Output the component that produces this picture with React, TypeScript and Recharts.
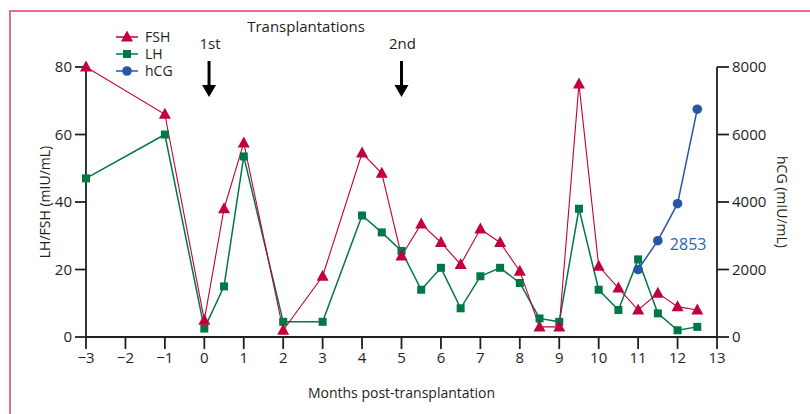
import React from 'react';
import { LineChart, Line, XAxis, YAxis, ReferenceDot, LabelList } from 'recharts';

const months = [-3, -1, 0, 0.5, 1, 2, 3, 4, 4.5, 5, 5.5, 6, 6.5, 7, 7.5, 8, 8.5, 9, 9.5, 10, 10.5, 11, 11.5, 12, 12.5];
const fsh = [80, 66, 5, 38, 57.5, 2, 18, 54.5, 48.5, 24, 33.5, 28, 21.5, 32, 28, 19.5, 3, 3, 75, 21, 14.5, 8, 13, 9, 8];
const lh = [47, 60, 2.5, 15, 53.5, 4.5, 4.5, 36, 31, 25.5, 14, 20.5, 8.5, 18, 20.5, 16, 5.5, 4.5, 38, 14, 8, 23, 7, 2, 3];
const hcgMonths = [11, 11.5, 12, 12.5];
const hcg = [2000, 2853, 3950, 6750];
const labelledHcg = 2853;

const xTicks = [-3, -2, -1, 0, 1, 2, 3, 4, 5, 6, 7, 8, 9, 10, 11, 12, 13];
const leftTicks = [0, 20, 40, 60, 80];
const rightTicks = [0, 2000, 4000, 6000, 8000];

const transplants = [
  { month: 0.12, label: '1st' },
  { month: 5, label: '2nd' },
];
const titleMonth = 2.58;

const data = months.map((m, i) => {
  const hi = hcgMonths.indexOf(m);
  return { month: m, fsh: fsh[i], lh: lh[i], hcg: hi >= 0 ? hcg[hi] : null };
});

const RED = '#c2003c';
const GREEN = '#007845';
const BLUE = '#2657a6';
const INK = '#231f20';

const Tri = (props: any) => {
  const { cx, cy, index } = props;
  if (cx == null || cy == null) return <g key={'t' + index} />;
  return <polygon key={'t' + index} points={`${cx},${cy - 6.5} ${cx - 6},${cy + 4.5} ${cx + 6},${cy + 4.5}`} fill={RED} />;
};
const Sq = (props: any) => {
  const { cx, cy, index } = props;
  if (cx == null || cy == null) return <g key={'s' + index} />;
  return <rect key={'s' + index} x={cx - 4} y={cy - 4} width={8} height={8} fill={GREEN} />;
};
const Circ = (props: any) => {
  const { cx, cy, index } = props;
  if (cx == null || cy == null) return <g key={'c' + index} />;
  return <circle key={'c' + index} cx={cx} cy={cy} r={4.8} fill={BLUE} />;
};

const Arrow = (label: string) => (props: any) => {
  const { cx, cy } = props;
  return (
    <g>
      <text x={cx + 1} y={cy - 48} textAnchor="middle" fontSize={15} fill={INK}>{label}</text>
      <line x1={cx} x2={cx} y1={cy - 36} y2={cy - 10} stroke="#000" strokeWidth={3} />
      <polygon points={`${cx - 7},${cy - 12} ${cx + 7},${cy - 12} ${cx},${cy}`} fill="#000" />
    </g>
  );
};

const Title = (props: any) => {
  const { cx, cy } = props;
  return <text x={cx} y={cy} textAnchor="middle" fontSize={15} fill={INK}>Transplantations</text>;
};

const fmt = (v: number) => String(v).replace('-', '\u2212');

const HcgLabel = (props: any) => {
  const { x, y, value } = props;
  if (value !== labelledHcg) return null;
  return <text x={x + 12} y={y + 9} fontSize={16} fill="#2e62ad">{value}</text>;
};

const legendItems = [
  { name: 'FSH', color: RED, kind: 'tri' },
  { name: 'LH', color: GREEN, kind: 'sq' },
  { name: 'hCG', color: BLUE, kind: 'circ' },
];

export default function App() {
  return (
    <div style={{ position: 'absolute', left: 0, top: 0, width: 810, height: 414, overflow: 'hidden', background: '#fff', fontFamily: '"Open Sans", sans-serif' }}>
      <div style={{ position: 'absolute', left: 9, top: 10, width: 1000, height: 1000, borderTop: '2px solid #e06b94', borderLeft: '2px solid #e06b94' }} />
      <LineChart width={810} height={414} data={data} margin={{ top: 67, right: 23, bottom: 47, left: 26 }} style={{ position: 'absolute', left: 0, top: 0 }}>
        <XAxis dataKey="month" type="number" domain={[-3, 13]} ticks={xTicks} tickFormatter={fmt} interval={0}
          height={30} tickSize={12} tickMargin={3} stroke={INK} strokeWidth={1.8}
          tick={{ fill: INK, fontSize: 15 }}
          label={{ value: 'Months post-transplantation', position: 'bottom', offset: 21, fill: INK, fontSize: 14 }} />
        <YAxis yAxisId="l" domain={[0, 80]} ticks={leftTicks} width={60} tickSize={11} tickMargin={3}
          stroke={INK} strokeWidth={1.8} tick={{ fill: INK, fontSize: 15 }}
          label={{ value: 'LH/FSH (mIU/mL)', angle: -90, position: 'insideLeft', offset: 19, fill: INK, fontSize: 14, style: { textAnchor: 'middle' } }} />
        <YAxis yAxisId="r" orientation="right" domain={[0, 8000]} ticks={rightTicks} width={70} tickSize={12} tickMargin={3}
          stroke={INK} strokeWidth={1.8} tick={{ fill: INK, fontSize: 15 }}
          label={{ value: 'hCG (mIU/mL)', angle: 90, position: 'insideRight', offset: 5, fill: INK, fontSize: 14, style: { textAnchor: 'middle' } }} />
        <Line yAxisId="l" dataKey="lh" stroke={GREEN} strokeWidth={1.5} dot={Sq} activeDot={false} isAnimationActive={false} />
        <Line yAxisId="l" dataKey="fsh" stroke={RED} strokeWidth={1.1} dot={Tri} activeDot={false} isAnimationActive={false} />
        <Line yAxisId="r" dataKey="hcg" stroke={BLUE} strokeWidth={1.5} dot={Circ} activeDot={false} isAnimationActive={false}>
          <LabelList dataKey="hcg" content={HcgLabel} />
        </Line>
        {transplants.map((t) => (
          <ReferenceDot key={t.label} yAxisId="l" x={t.month} y={71.1} ifOverflow="visible" shape={Arrow(t.label)} />
        ))}
        <ReferenceDot yAxisId="l" x={titleMonth} y={90.5} ifOverflow="visible" shape={Title} />
      </LineChart>
      <svg width={90} height={64} style={{ position: 'absolute', left: 110, top: 26 }}>
        {legendItems.map((it, i) => {
          const y = 11 + i * 17;
          return (
            <g key={it.name}>
              <line x1={6} x2={28} y1={y} y2={y} stroke={it.color} strokeWidth={1.5} />
              {it.kind === 'tri' && <polygon points={`17,${y - 6.5} 11,${y + 4.5} 23,${y + 4.5}`} fill={it.color} />}
              {it.kind === 'sq' && <rect x={13} y={y - 4} width={8} height={8} fill={it.color} />}
              {it.kind === 'circ' && <circle cx={17} cy={y} r={4.8} fill={it.color} />}
              <text x={35} y={y + 5} fontSize={14} fill={INK}>{it.name}</text>
            </g>
          );
        })}
      </svg>
    </div>
  );
}
